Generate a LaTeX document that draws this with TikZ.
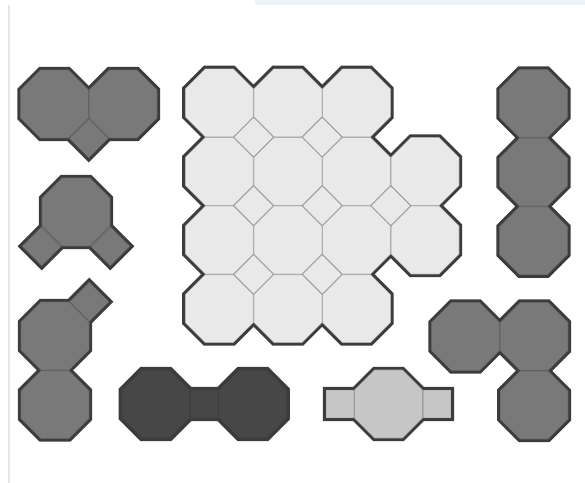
\documentclass[tikz,border=0pt]{standalone}
\definecolor{gridfill}{HTML}{E9E9E9}
\definecolor{gridline}{HTML}{BFBFBF}
\definecolor{greyfill}{HTML}{797979}
\definecolor{greyline}{HTML}{696969}
\definecolor{darkfill}{HTML}{474747}
\definecolor{darkline}{HTML}{3D3D3D}
\definecolor{lightfill}{HTML}{C6C6C6}
\definecolor{lightline}{HTML}{A6A6A6}
\definecolor{outc}{HTML}{3C3C3C}
\definecolor{topbar}{HTML}{EEF3FB}
\definecolor{leftbar}{HTML}{E6E6E6}
\def\octH{34.3}
\def\octA{14.21}
\def\octD{20.09}
\newcommand\oct[2]{({#1-\octA},{#2-\octH}) -- ({#1+\octA},{#2-\octH}) -- ({#1+\octH},{#2-\octA}) -- ({#1+\octH},{#2+\octA}) -- ({#1+\octA},{#2+\octH}) -- ({#1-\octA},{#2+\octH}) -- ({#1-\octH},{#2+\octA}) -- ({#1-\octH},{#2-\octA}) -- cycle }
\newcommand\dia[2]{({#1-\octD},{#2}) -- ({#1},{#2-\octD}) -- ({#1+\octD},{#2}) -- ({#1},{#2+\octD}) -- cycle }
\newcommand\sqr[2]{({#1-\octA},{#2-\octA}) rectangle ({#1+\octA},{#2+\octA}) }
\newcommand\piece[3]{%
  \path[fill=#2,draw=#3,line width=0.7pt,line join=round] #1;
  \begin{scope}[even odd rule]
    \clip (-20,-20) rectangle (620,520) #1;
    \draw[outl] #1;
  \end{scope}}
\begin{document}
\begin{tikzpicture}[x=0.5pt,y=-0.5pt,
  outl/.style={draw=outc,line width=2.8pt,line join=miter}]
\useasboundingbox (0,0) rectangle (585,483);
\fill[white] (0,0) rectangle (585,483);
\fill[topbar] (255,0) rectangle (585,5);
\fill[leftbar] (7.5,5) rectangle (9.5,483);
% main grid
\piece{\oct{219.3}{102.8} \oct{287.9}{102.8} \oct{356.5}{102.8}
 \oct{219.3}{171.4} \oct{287.9}{171.4} \oct{356.5}{171.4} \oct{425.1}{171.4}
 \oct{219.3}{240.0} \oct{287.9}{240.0} \oct{356.5}{240.0} \oct{425.1}{240.0}
 \oct{219.3}{308.6} \oct{287.9}{308.6} \oct{356.5}{308.6}
 \dia{253.6}{137.1} \dia{322.2}{137.1}
 \dia{253.6}{205.7} \dia{322.2}{205.7} \dia{390.8}{205.7}
 \dia{253.6}{274.3} \dia{322.2}{274.3}}{gridfill}{gridline}
% top-left pair with diamond
\piece{\oct{54.5}{104} \oct{123.1}{104} \dia{88.8}{138.3}}{greyfill}{greyline}
% octagon with two squares
\piece{\oct{76}{212} \dia{41.7}{246.3} \dia{110.3}{246.3}}{greyfill}{greyline}
% vertical pair with square
\piece{\oct{55}{336} \oct{55}{404.6} \dia{89.3}{301.7}}{greyfill}{greyline}
% dark dumbbell
\piece{\oct{155.8}{404} \sqr{204.3}{404} \oct{252.8}{404}}{darkfill}{darkline}
% light octagon with two squares
\piece{\sqr{340}{404} \oct{388.5}{404} \sqr{437}{404}}{lightfill}{lightline}
% L piece
\piece{\oct{465.5}{336.5} \oct{534.1}{336.5} \oct{534.1}{405.1}}{greyfill}{greyline}
% right column
\piece{\oct{533.5}{103.5} \oct{533.5}{172.1} \oct{533.5}{240.7}}{greyfill}{greyline}
\end{tikzpicture}
\end{document}
